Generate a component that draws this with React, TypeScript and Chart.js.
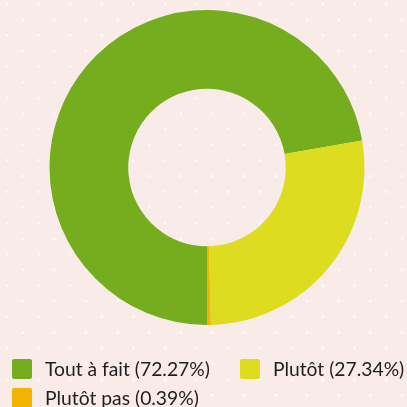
import React, { useEffect, useRef } from "react";
import { Chart, registerables } from "chart.js";

Chart.register(...registerables);

const categories = ["Tout à fait", "Plutôt", "Plutôt pas"];
const values = [72.27, 27.34, 0.39];
const colors = ["#76ad1e", "#dedc1f", "#f2b400"];
const BG = "#f9ebe8";

const bgPlugin = {
  id: "bgDots",
  beforeDraw(chart: any) {
    const { ctx, width, height } = chart;
    ctx.save();
    ctx.fillStyle = BG;
    ctx.fillRect(0, 0, width, height);
    ctx.fillStyle = "rgba(255,255,255,0.75)";
    const sx = 31.6;
    const sy = 31.3;
    for (let r = -1; r * sy < height + sy; r++) {
      for (let c = -1; c * sx < width + sx; c++) {
        const pts = [
          [7 + c * sx, 4 + r * sy],
          [22.8 + c * sx, 19.65 + r * sy],
        ];
        for (const [x, y] of pts) {
          ctx.beginPath();
          ctx.arc(x, y, 1.4, 0, Math.PI * 2);
          ctx.fill();
        }
      }
    }
    ctx.restore();
  },
};

export default function App() {
  const ref = useRef<HTMLCanvasElement>(null);
  useEffect(() => {
    if (!ref.current) return;
    const chart = new Chart(ref.current, {
      type: "doughnut",
      data: {
        labels: categories,
        datasets: [
          {
            data: values,
            backgroundColor: colors,
            borderWidth: 0,
          },
        ],
      },
      options: {
        responsive: false,
        animation: false,
        rotation: 180,
        cutout: "50%",
        layout: { padding: { top: 10, bottom: 82, left: 49, right: 42 } },
        plugins: { legend: { display: false }, tooltip: { enabled: false } },
      },
      plugins: [bgPlugin],
    });
    return () => chart.destroy();
  }, []);

  const item = (i: number) => (
    <div key={i} style={{ display: "flex", alignItems: "center", height: 20 }}>
      <span
        style={{
          display: "inline-block",
          width: 20,
          height: 20,
          background: colors[i],
          borderRadius: 2,
          marginRight: 13,
        }}
      />
      <span style={{ lineHeight: "20px" }}>
        {categories[i]} ({values[i].toFixed(2)}%)
      </span>
    </div>
  );

  return (
    <div style={{ position: "fixed", left: 0, top: 0, width: 407, height: 407, overflow: "hidden" }}>
      <canvas ref={ref} width={407} height={407} style={{ position: "absolute", left: 0, top: 0 }} />
      <div
        style={{
          position: "absolute",
          left: 12,
          top: 359,
          width: 395,
          display: "flex",
          flexWrap: "wrap",
          columnGap: 30,
          rowGap: 9,
          fontFamily: "Lato",
          fontSize: 19.3,
          color: "#1e1e1e",
        }}
      >
        {item(0)}
        {item(1)}
        {item(2)}
      </div>
    </div>
  );
}
